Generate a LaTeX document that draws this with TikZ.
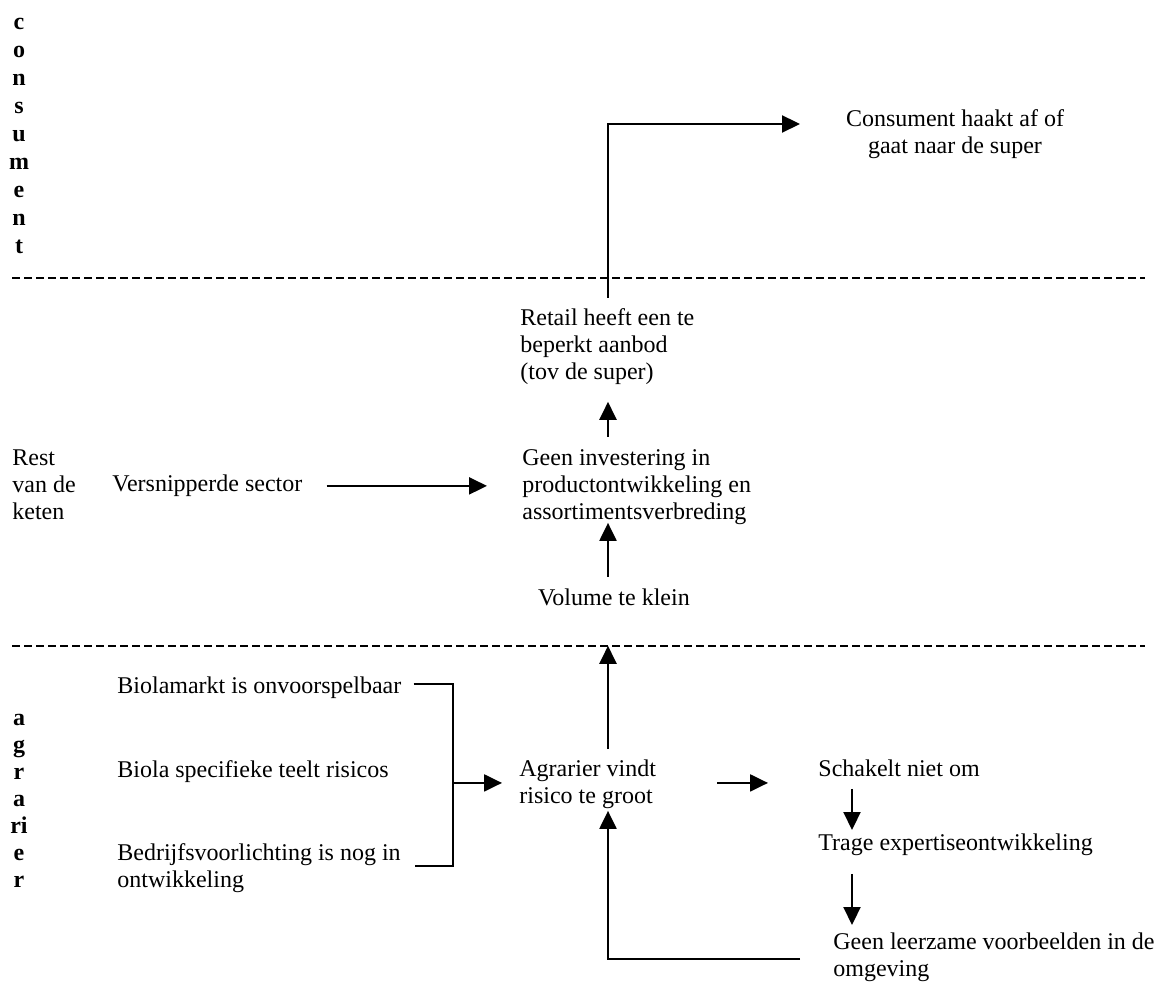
\documentclass[tikz,border=0pt]{standalone}
\usepackage{fontspec}
\setmainfont{Liberation Serif}
\usetikzlibrary{arrows.meta,calc}

\begin{document}
\begin{tikzpicture}[x=0.5pt,y=-0.5pt,
  txt/.style={inner sep=0pt, anchor=north west, align=left,
    font=\fontsize{12}{13.5}\selectfont},
  ctxt/.style={inner sep=0pt, anchor=north, align=center,
    font=\fontsize{12}{13.5}\selectfont},
  lane/.style={inner sep=0pt, anchor=north, align=center},
  arr/.style={line width=1.1pt, -{Triangle[length=9pt,width=8.5pt]}},
  link/.style={line width=1.1pt},
  sep/.style={line width=0.9pt, dash pattern=on 4pt off 2pt}]

\useasboundingbox (0,0) rectangle (1162,988);

% lane separators
\draw[sep] (12,278) -- (1145,278);
\draw[sep] (12,646) -- (1145,646);

% lane titles
\node[lane, font=\bfseries\fontsize{12}{14}\selectfont] (consument) at (19,18)
  {c\\o\\n\\s\\u\\m\\e\\n\\t};
\node[txt] (rest) at (12,446) {\strut Rest\\van de\\keten};
\node[lane, font=\bfseries\fontsize{12}{13.5}\selectfont] (agrarier) at (19,714)
  {a\\g\\r\\a\\ri\\e\\r};

% consumer lane
\node[ctxt] (haakt) at (955,107) {\strut Consument haakt af of\\gaat naar de super};

% chain lane
\node[txt] (retail) at (520,306) {\strut Retail heeft een te\\beperkt aanbod\\(tov de super)};
\node[txt] (geen) at (522,446) {\strut Geen investering in\\productontwikkeling en\\assortimentsverbreding};
\node[txt] (versn) at (112,472) {\strut Versnipperde sector};
\node[ctxt] (volume) at (614,586) {\strut Volume te klein};

% farmer lane
\node[txt] (biolam) at (117,674) {\strut Biolamarkt is onvoorspelbaar};
\node[txt] (biolas) at (117,758) {\strut Biola specifieke teelt risicos};
\node[txt] (bedrijf) at (117,841) {\strut Bedrijfsvoorlichting is nog in\\ontwikkeling};
\node[txt] (agr) at (519,757) {\strut Agrarier vindt\\risico te groot};
\node[txt] (schak) at (818,757) {\strut Schakelt niet om};
\node[txt] (trage) at (818,831) {\strut Trage expertiseontwikkeling};
\node[txt] (leer) at (833,930) {\strut Geen leerzame voorbeelden in de\\omgeving};

% guide columns
\coordinate (col) at (608,0);
\coordinate (rcol) at (852,0);
\coordinate (brk) at (453,0);
\coordinate (haaktin) at (800,124);

% connectors in the chain column
\draw[arr] ($(agr.north -| col)+(0,-8)$) -- ($(volume.south -| col)+(0,32)$);
\draw[arr] ($(volume.north -| col)+(0,-9)$) -- ($(geen.south -| col)+(0,-2)$);
\draw[arr] ($(geen.north -| col)+(0,-9)$) -- ($(retail.south -| col)+(0,17)$);
\draw[arr] ($(retail.north -| col)+(0,-8)$) |- (haaktin);

% fragmented sector
\draw[arr] ($(versn.east)+(24,0)$) -- ($(versn.east -| geen.west)+(-35,0)$);

% bracket of the three risk causes
\draw[link] ($(biolam.east)+(12,-4)$) -- ($(biolam.east -| brk)+(0,-4)$)
  -- ($(bedrijf.north -| brk)+(0,25)$) -- ($(bedrijf.north east)+(14,25)$);
\draw[arr] (brk |- agr.west) -- ($(agr.west)+(-17,0)$);

% consequences for the farmer
\draw[arr] ($(agr.east)+(61,0)$) -- ($(agr.east -| schak.west)+(-50,0)$);
\draw[arr] ($(schak.south -| rcol)+(0,4)$) -- ($(trage.north -| rcol)+(0,-1)$);
\draw[arr] ($(trage.south -| rcol)+(0,15)$) -- ($(leer.north -| rcol)+(0,-5)$);
\draw[arr] ($(leer.west)+(-33,3)$) -| ($(agr.south -| col)+(0,2)$);

\end{tikzpicture}
\end{document}
